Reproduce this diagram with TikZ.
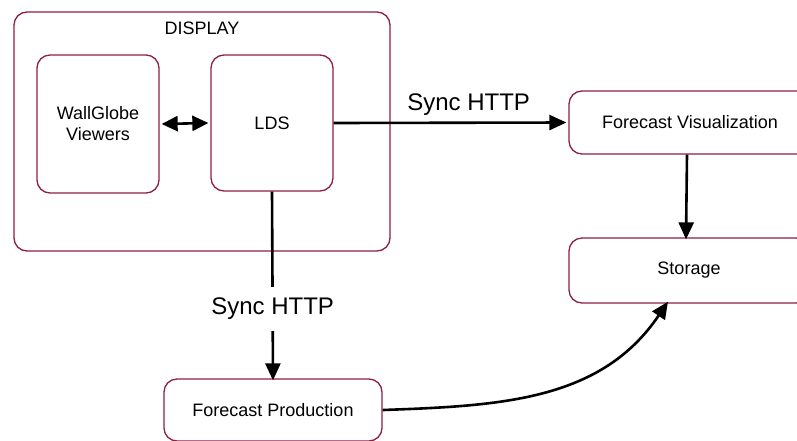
\documentclass[tikz,border=0pt]{standalone}
\usepackage{fontspec}
\setmainfont{Liberation Sans}
\usepackage{tikz}
\usetikzlibrary{positioning, calc, arrows.meta}
\definecolor{boxred}{RGB}{142,30,70}
\tikzset{box/.style={draw=boxred, line width=1.3pt, rounded corners=13pt, fill=white, align=center, font=\fontsize{18}{21}\selectfont}}
\tikzset{flow/.style={line width=2.6pt, -{Triangle[length=17pt, width=15pt]}}}
\tikzset{httplabel/.style={font=\fontsize{24}{28}\selectfont}}

\begin{document}
\begin{tikzpicture}[x=1pt, y=-1pt]
      \useasboundingbox (0,0) rectangle (797,440);

      % BOXES

      \node[box, minimum width=376pt, minimum height=239pt] (display) at (202,131.5) {};
      \node[box, minimum width=122pt, minimum height=138pt] (wallglobe) at (98,124) {WallGlobe\\Viewers};
      \node[box, minimum width=122pt, minimum height=136pt] (lds) at (272,123) {LDS};
      \node[box, minimum width=242pt, minimum height=63pt] (vis) at (690,122.5) {Forecast Visualization};
      \node[box, minimum width=240pt, minimum height=65pt] (storage) at (689,270.5) {Storage};
      \node[box, minimum width=218pt, minimum height=62pt] (prod) at (273,410) {Forecast Production};

      % LABELS

      \node[font=\fontsize{18}{21}\selectfont] (displayLabel) at (202,28) {DISPLAY};

      % ARROWS
      \draw[line width=2.6pt, {Triangle[length=16pt, width=15pt]}-{Triangle[length=16pt, width=15pt]}] ([xshift=2pt]wallglobe.east) -- ([xshift=-2pt]lds.east -| lds.west);
      \draw[flow] (lds.east) -- node[httplabel, pos=0.58, above=3pt] (syncTop) {Sync HTTP} ([xshift=-2pt]vis.west);
      \draw[flow] (lds.south) -- node[httplabel, pos=0.62, fill=white, inner ysep=11pt] (syncDown) {Sync HTTP} ([yshift=-2pt]prod.north);
      \draw[flow] ([xshift=-3pt]vis.south) -- ([xshift=-3pt, yshift=-2pt]storage.north);
      \draw[flow] (prod.east) to[out=2, in=236] ([xshift=-21pt, yshift=2pt]storage.south);

\end{tikzpicture}
\end{document}
